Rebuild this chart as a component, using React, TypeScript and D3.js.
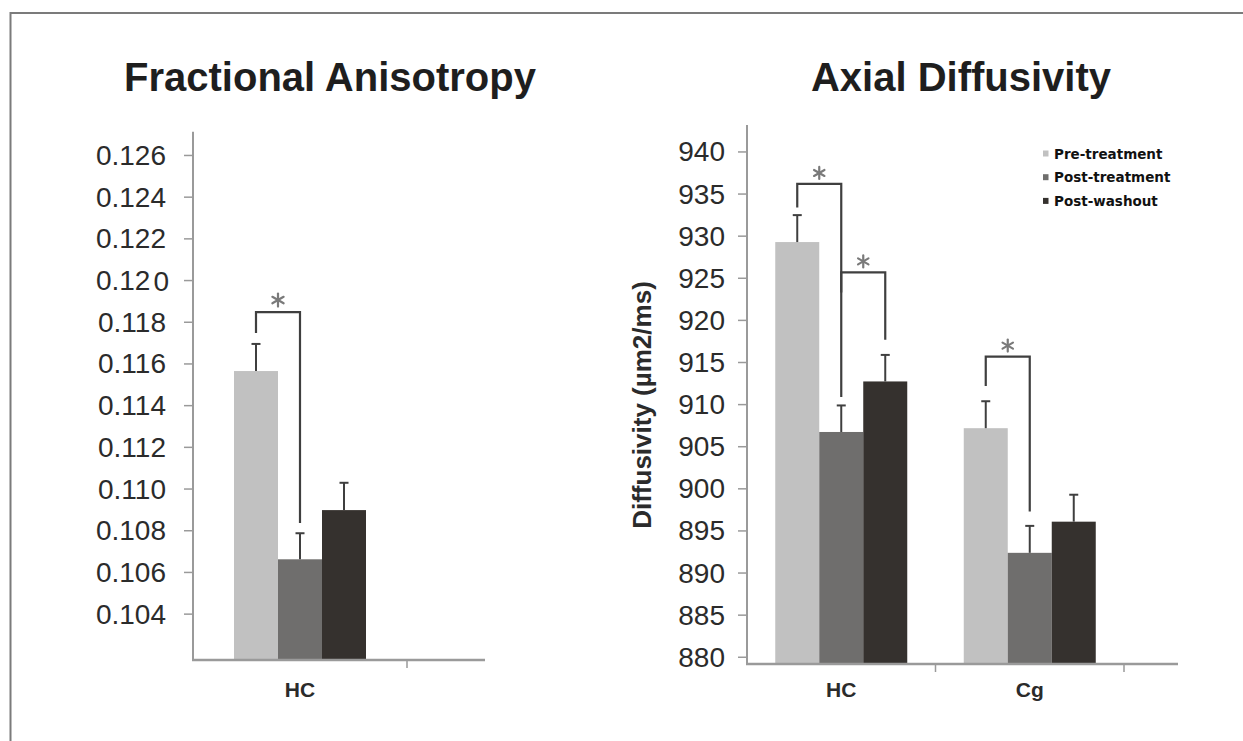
import React from "react";
import * as d3 from "d3";

const series = ["Pre-treatment", "Post-treatment", "Post-washout"];
const colors = ["#c1c1c1", "#6f6e6d", "#35312e"];

const faCategories = ["HC", ""];
const faValues = [[0.11566], [0.10663], [0.10899]];
const faErrors = [[0.00130], [0.00125], [0.00131]];
const faTicks = [0.104, 0.106, 0.108, 0.110, 0.112, 0.114, 0.116, 0.118, 0.120, 0.122, 0.124, 0.126];
const faTickLabels = ["0.104", "0.106", "0.108", "0.110", "0.112", "0.114", "0.116", "0.118", "0.120", "0.122", "0.124", "0.126"];
const faBrackets = [{ cat: 0, a: 0, b: 1, top: 0.11849, leftBottom: 0.11749, rightBottom: 0.10837 }];

const adCategories = ["HC", "Cg", ""];
const adValues = [[929.3, 907.2], [906.75, 892.4], [912.75, 896.1]];
const adErrors = [[3.2, 3.2], [3.15, 3.2], [3.15, 3.2]];
const adTicks = [880, 885, 890, 895, 900, 905, 910, 915, 920, 925, 930, 935, 940];
const adBrackets = [
  { cat: 0, a: 0, b: 1, top: 936.2, leftBottom: 933.4, rightBottom: 910.9 },
  { cat: 0, a: 1, b: 2, top: 925.7, leftBottom: 923.3, rightBottom: 917.7 },
  { cat: 1, a: 0, b: 1, top: 915.7, leftBottom: 912.2, rightBottom: 897.3 },
];

const AXIS = "#9a9a9a";
const LINE = "#3f3f3f";
const TXT = "#2b2b2b";

function Asterisk({ x, y, r }: { x: number; y: number; r: number }) {
  const angles = [90, 30, 150];
  return (
    <g stroke="#7a7a7a" strokeWidth={2.2} strokeLinecap="round">
      {angles.map((a) => {
        const rad = (a * Math.PI) / 180;
        return (
          <line key={a} x1={x - r * Math.cos(rad)} y1={y - r * Math.sin(rad)} x2={x + r * Math.cos(rad)} y2={y + r * Math.sin(rad)} />
        );
      })}
    </g>
  );
}

type PanelProps = {
  categories: string[];
  values: number[][];
  errors: number[][];
  ticks: number[];
  tickLabels: string[];
  brackets: { cat: number; a: number; b: number; top: number; leftBottom: number; rightBottom: number }[];
  domain: [number, number];
  yRange: [number, number];
  x0: number;
  catW: number;
  axisEnd: number;
  labelRight: number;
  astR: number;
  astDy: number;
};

function TickLabel({ label }: { label: string }) {
  if (label === "0.120") {
    return (
      <>
        {"0.12"}
        <tspan dx={3}>0</tspan>
      </>
    );
  }
  return <>{label}</>;
}

function Panel(p: PanelProps) {
  const y = d3.scaleLinear().domain(p.domain).range(p.yRange);
  const x = d3
    .scaleBand<string>()
    .domain(p.categories.map((c, i) => String(i)))
    .range([p.x0, p.x0 + p.catW * p.categories.length]);
  const groupW = 132;
  const x1 = d3.scaleBand<string>().domain(series).range([0, groupW]);
  const base = p.yRange[0];
  const barX = (ci: number, si: number) => (x(String(ci)) as number) + (x.bandwidth() - groupW) / 2 + (x1(series[si]) as number);
  const bw = x1.bandwidth();
  return (
    <g>
      {p.values.map((vals, si) =>
        vals.map((v, ci) => (
          <rect key={`b${si}-${ci}`} x={barX(ci, si)} y={y(v)} width={bw} height={base - y(v)} fill={colors[si]} />
        ))
      )}
      {p.values.map((vals, si) =>
        vals.map((v, ci) => {
          const cx = barX(ci, si) + bw / 2;
          const ye = y(v + p.errors[si][ci]);
          return (
            <g key={`e${si}-${ci}`} stroke={LINE} strokeWidth={2}>
              <line x1={cx} x2={cx} y1={y(v)} y2={ye} />
              <line x1={cx - 4.5} x2={cx + 4.5} y1={ye} y2={ye} />
            </g>
          );
        })
      )}
      {p.brackets.map((b, i) => {
        const xa = barX(b.cat, b.a) + bw / 2;
        const xb = barX(b.cat, b.b) + bw / 2;
        const yt = y(b.top);
        return (
          <g key={`k${i}`}>
            <path
              d={`M${xa},${y(b.leftBottom)}V${yt}H${xb}V${y(b.rightBottom)}`}
              fill="none"
              stroke={LINE}
              strokeWidth={2.2}
            />
            <Asterisk x={(xa + xb) / 2} y={yt - p.astDy} r={p.astR} />
          </g>
        );
      })}
      <line x1={p.x0} x2={p.x0} y1={p.yRange[1]} y2={base + 1} stroke={AXIS} strokeWidth={2} />
      {p.ticks.map((t, i) => (
        <g key={`t${i}`}>
          <line x1={p.x0 - 9} x2={p.x0} y1={y(t)} y2={y(t)} stroke={AXIS} strokeWidth={1.5} />
          <text
            x={p.labelRight + (p.tickLabels[i] === "0.120" ? 3 : 0)}
            y={y(t)}
            textAnchor="end"
            dominantBaseline="central"
            fontFamily="Liberation Sans, Arial, sans-serif"
            fontSize={28}
            fill={TXT}
          >
            <TickLabel label={p.tickLabels[i]} />
          </text>
        </g>
      ))}
      <line x1={p.x0 - 1} x2={p.axisEnd} y1={base} y2={base} stroke={AXIS} strokeWidth={2.4} />
      {p.categories.map((c, ci) => {
        const bx = (x(String(ci)) as number) + x.bandwidth();
        return bx < p.axisEnd ? (
          <line key={`xt${ci}`} x1={bx} x2={bx} y1={base} y2={base + 8} stroke={AXIS} strokeWidth={1.5} />
        ) : null;
      })}
      {p.categories.map((c, ci) =>
        c ? (
          <text
            key={`xl${ci}`}
            x={(x(String(ci)) as number) + x.bandwidth() / 2}
            y={697}
            textAnchor="middle"
            fontFamily="Liberation Sans, Arial, sans-serif"
            fontWeight="bold"
            fontSize={21}
            fill={TXT}
          >
            {c}
          </text>
        ) : null
      )}
    </g>
  );
}

export default function App() {
  return (
    <svg width={1243} height={741} style={{ position: "absolute", left: 0, top: 0, background: "#fff" }}>
      <rect x={0} y={0} width={1243} height={741} fill="#fff" />
      <path d="M10.5,741V13H1243" fill="none" stroke="#7b7b7b" strokeWidth={2} />
      <text x={330} y={91} textAnchor="middle" fontFamily="Liberation Sans, Arial, sans-serif" fontWeight="bold" fontSize={40} fill="#1e1e1e">
        Fractional Anisotropy
      </text>
      <text x={961} y={91} textAnchor="middle" fontFamily="Liberation Sans, Arial, sans-serif" fontWeight="bold" fontSize={40} fill="#1e1e1e">
        Axial Diffusivity
      </text>
      <Panel
        categories={faCategories}
        values={faValues}
        errors={faErrors}
        ticks={faTicks}
        tickLabels={faTickLabels}
        brackets={faBrackets}
        domain={[0.1018, 0.12714]}
        yRange={[660, 131.7]}
        x0={193}
        catW={214}
        axisEnd={485}
        labelRight={166}
        astR={6.5}
        astDy={12}
      />
      <Panel
        categories={adCategories}
        values={adValues}
        errors={adErrors}
        ticks={adTicks}
        tickLabels={adTicks.map(String)}
        brackets={adBrackets}
        domain={[879.2, 943.2]}
        yRange={[664, 125]}
        x0={747}
        catW={188.5}
        axisEnd={1178}
        labelRight={725}
        astR={6}
        astDy={11}
      />
      <text
        transform="translate(651,405) rotate(-90)"
        textAnchor="middle"
        fontFamily="Liberation Sans, Arial, sans-serif"
        fontWeight="bold"
        fontSize={26}
        fill={TXT}
      >
        Diffusivity (µm2/ms)
      </text>
      {series.map((s, i) => (
        <g key={s}>
          <rect x={1043} y={150.5 + i * 23.7} width={5.5} height={6} fill={colors[i]} />
          <text
            x={1054}
            y={153.5 + i * 23.7}
            dominantBaseline="central"
            fontFamily="DejaVu Sans, sans-serif"
            fontWeight="bold"
            fontSize={13.5}
            fill="#111"
          >
            {s}
          </text>
        </g>
      ))}
    </svg>
  );
}
